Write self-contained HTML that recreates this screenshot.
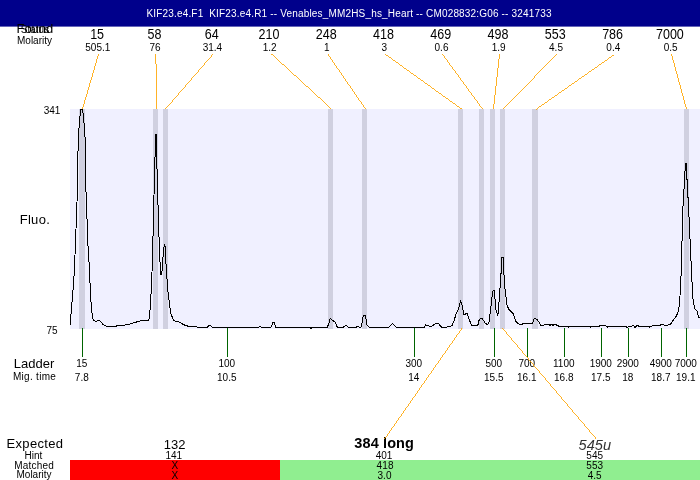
<!DOCTYPE html><html><head><meta charset="utf-8"><title>Electropherogram</title>
<style>html,body{margin:0;padding:0;background:#fff}svg{display:block}text{font-family:"Liberation Sans",sans-serif;fill:#000}.m{text-anchor:middle}.s{font-size:10px}.b{font-size:13px}.l{font-size:13px}</style></head><body>
<svg width="700" height="480" viewBox="0 0 700 480">
<rect x="0" y="0" width="700" height="480" fill="#fff"/>
<rect x="0" y="0" width="700" height="26.6" fill="#00008b"/>
<text x="349" y="16.6" class="m" style="font-size:10px;fill:#fff;white-space:pre" textLength="405" lengthAdjust="spacing">KIF23.e4.F1  KIF23.e4.R1 -- Venables_MM2HS_hs_Heart -- CM028832:G06 -- 3241733</text>
<text x="34.9" y="32.6" class="m l">Found</text>
<text x="35" y="32.6" class="m s">Status</text>
<text x="34.5" y="43.6" class="m s">Molarity</text>
<rect x="70" y="109" width="630" height="220" fill="#f0f0ff" shape-rendering="crispEdges"/>
<rect x="79" y="109" width="6" height="220" fill="#d0d0e0" shape-rendering="crispEdges"/>
<rect x="153" y="109" width="5" height="220" fill="#d0d0e0" shape-rendering="crispEdges"/>
<rect x="163" y="109" width="5" height="220" fill="#d0d0e0" shape-rendering="crispEdges"/>
<rect x="328" y="109" width="5" height="220" fill="#d0d0e0" shape-rendering="crispEdges"/>
<rect x="362" y="109" width="5" height="220" fill="#d0d0e0" shape-rendering="crispEdges"/>
<rect x="458" y="109" width="5" height="220" fill="#d0d0e0" shape-rendering="crispEdges"/>
<rect x="479" y="109" width="5" height="220" fill="#d0d0e0" shape-rendering="crispEdges"/>
<rect x="490" y="109" width="5" height="220" fill="#d0d0e0" shape-rendering="crispEdges"/>
<rect x="500" y="109" width="5" height="220" fill="#d0d0e0" shape-rendering="crispEdges"/>
<rect x="532" y="109" width="6" height="220" fill="#d0d0e0" shape-rendering="crispEdges"/>
<rect x="684" y="109" width="5" height="220" fill="#d0d0e0" shape-rendering="crispEdges"/>
<text transform="translate(97.1 39) scale(.895 1)" class="m" style="font-size:14px">15</text>
<text x="97.8" y="50.8" class="m s">505.1</text>
<line x1="98.6" y1="54" x2="82.5" y2="109" stroke="#ffa500" stroke-width="0.85" shape-rendering="crispEdges"/>
<text transform="translate(154.4 39) scale(.895 1)" class="m" style="font-size:14px">58</text>
<text x="155.1" y="50.8" class="m s">76</text>
<line x1="155.9" y1="54" x2="156.5" y2="109" stroke="#ffa500" stroke-width="0.85" shape-rendering="crispEdges"/>
<text transform="translate(211.7 39) scale(.895 1)" class="m" style="font-size:14px">64</text>
<text x="212.4" y="50.8" class="m s">31.4</text>
<line x1="213.2" y1="54" x2="165.5" y2="109" stroke="#ffa500" stroke-width="0.85" shape-rendering="crispEdges"/>
<text transform="translate(269.0 39) scale(.895 1)" class="m" style="font-size:14px">210</text>
<text x="269.7" y="50.8" class="m s">1.2</text>
<line x1="270.5" y1="54" x2="330.5" y2="109" stroke="#ffa500" stroke-width="0.85" shape-rendering="crispEdges"/>
<text transform="translate(326.2 39) scale(.895 1)" class="m" style="font-size:14px">248</text>
<text x="326.9" y="50.8" class="m s">1</text>
<line x1="327.7" y1="54" x2="365.5" y2="109" stroke="#ffa500" stroke-width="0.85" shape-rendering="crispEdges"/>
<text transform="translate(383.5 39) scale(.895 1)" class="m" style="font-size:14px">418</text>
<text x="384.2" y="50.8" class="m s">3</text>
<line x1="385.0" y1="54" x2="461.5" y2="109" stroke="#ffa500" stroke-width="0.85" shape-rendering="crispEdges"/>
<text transform="translate(440.8 39) scale(.895 1)" class="m" style="font-size:14px">469</text>
<text x="441.5" y="50.8" class="m s">0.6</text>
<line x1="442.3" y1="54" x2="482.5" y2="109" stroke="#ffa500" stroke-width="0.85" shape-rendering="crispEdges"/>
<text transform="translate(498.0 39) scale(.895 1)" class="m" style="font-size:14px">498</text>
<text x="498.7" y="50.8" class="m s">1.9</text>
<line x1="499.5" y1="54" x2="493.5" y2="109" stroke="#ffa500" stroke-width="0.85" shape-rendering="crispEdges"/>
<text transform="translate(555.3 39) scale(.895 1)" class="m" style="font-size:14px">553</text>
<text x="556.0" y="50.8" class="m s">4.5</text>
<line x1="556.8" y1="54" x2="503.5" y2="109" stroke="#ffa500" stroke-width="0.85" shape-rendering="crispEdges"/>
<text transform="translate(612.6 39) scale(.895 1)" class="m" style="font-size:14px">786</text>
<text x="613.3" y="50.8" class="m s">0.4</text>
<line x1="614.1" y1="54" x2="535.5" y2="109" stroke="#ffa500" stroke-width="0.85" shape-rendering="crispEdges"/>
<text transform="translate(669.9 39) scale(.895 1)" class="m" style="font-size:14px">7000</text>
<text x="670.6" y="50.8" class="m s">0.5</text>
<line x1="671.4" y1="54" x2="686.5" y2="109" stroke="#ffa500" stroke-width="0.85" shape-rendering="crispEdges"/>
<text x="52" y="113.6" class="m s">341</text>
<text x="52" y="333.6" class="m s">75</text>
<text x="34.9" y="224.4" class="m l" style="letter-spacing:.3px">Fluo.</text>
<line x1="82.5" y1="328" x2="82.5" y2="357" stroke="#006400" stroke-width="1" shape-rendering="crispEdges"/>
<text x="81.8" y="366.7" class="m s">15</text>
<text x="81.8" y="380.7" class="m s">7.8</text>
<line x1="227.5" y1="328" x2="227.5" y2="357" stroke="#006400" stroke-width="1" shape-rendering="crispEdges"/>
<text x="226.8" y="366.7" class="m s">100</text>
<text x="226.8" y="380.7" class="m s">10.5</text>
<line x1="414.5" y1="328" x2="414.5" y2="357" stroke="#006400" stroke-width="1" shape-rendering="crispEdges"/>
<text x="413.8" y="366.7" class="m s">300</text>
<text x="413.8" y="380.7" class="m s">14</text>
<line x1="494.5" y1="328" x2="494.5" y2="357" stroke="#006400" stroke-width="1" shape-rendering="crispEdges"/>
<text x="493.8" y="366.7" class="m s">500</text>
<text x="493.8" y="380.7" class="m s">15.5</text>
<line x1="527.5" y1="328" x2="527.5" y2="357" stroke="#006400" stroke-width="1" shape-rendering="crispEdges"/>
<text x="526.8" y="366.7" class="m s">700</text>
<text x="526.8" y="380.7" class="m s">16.1</text>
<line x1="564.5" y1="328" x2="564.5" y2="357" stroke="#006400" stroke-width="1" shape-rendering="crispEdges"/>
<text x="563.8" y="366.7" class="m s">1100</text>
<text x="563.8" y="380.7" class="m s">16.8</text>
<line x1="601.5" y1="328" x2="601.5" y2="357" stroke="#006400" stroke-width="1" shape-rendering="crispEdges"/>
<text x="600.8" y="366.7" class="m s">1900</text>
<text x="600.8" y="380.7" class="m s">17.5</text>
<line x1="628.5" y1="328" x2="628.5" y2="357" stroke="#006400" stroke-width="1" shape-rendering="crispEdges"/>
<text x="627.8" y="366.7" class="m s">2900</text>
<text x="627.8" y="380.7" class="m s">18</text>
<line x1="661.5" y1="328" x2="661.5" y2="357" stroke="#006400" stroke-width="1" shape-rendering="crispEdges"/>
<text x="660.8" y="366.7" class="m s">4900</text>
<text x="660.8" y="380.7" class="m s">18.7</text>
<line x1="686.5" y1="328" x2="686.5" y2="357" stroke="#006400" stroke-width="1" shape-rendering="crispEdges"/>
<text x="685.8" y="366.7" class="m s">7000</text>
<text x="685.8" y="380.7" class="m s">19.1</text>
<text x="34" y="367.9" class="m l">Ladder</text>
<text x="34.6" y="379.8" class="m s" style="letter-spacing:.3px">Mig. time</text>
<polyline fill="none" stroke="#000" stroke-width="1" stroke-linejoin="miter" shape-rendering="crispEdges" points="70,325.7 72.3,298.6 73.2,288 74,276 75,255 76,229 77,202 77.9,155 78.7,132 79.8,117 80.9,109.5 82.7,109.5 83.4,118 84.5,127 85.3,143 86,192 87,219 88,246 89,262 89.8,278 90.7,298.6 92.4,317 93.6,320.7 96.5,321.5 98.6,320.3 100.7,321.7 102.9,324.3 106.4,326.1 115.7,326.1 127.9,324.7 140.7,320.7 148.6,320.7 149.6,317 150.7,298.6 151.5,287 152.5,257 153.5,216 154.5,174 155.4,144 155.6,134 156.3,134 156.5,150 157.5,186 158.5,222 159.5,252 160.4,270 160.8,274.7 161.8,274.7 162.6,262 163.5,252 164.4,244 164.9,244 165.7,258.6 166.4,270 167.9,291.4 170.7,312.9 173.6,320.7 179.3,322.1 183.6,324.7 187.9,326.1 195.7,326.4 197.1,327.2 207.1,327.2 210,325 212.1,327.4 258.6,327.4 260,326.3 262,327.4 271,327.4 272.9,322.6 274.3,322.6 276,327.4 309.3,327.4 311,328.3 312.4,327.4 327.1,327.4 328.6,324.3 330.3,318.3 332.9,320.7 335,321.7 337.4,327.4 342.9,327.4 346,325.2 348.6,327.4 355.7,327.4 357.9,326.3 360,327.4 361.4,327 362.9,317.1 364,315.4 365.4,316 367.1,325 369.3,327.4 388.6,327.4 392.4,323.6 396.4,327.4 424.3,327.4 425.7,325 429.3,326.1 432.1,326.1 435,324 438.6,323.6 441.4,327.1 447.1,327.1 452.1,325.7 454.3,320 456.4,312.9 458.6,308.6 460.7,300.7 462.1,305.7 464,315 466.9,312.9 468.6,317.9 471.4,325 477.9,325 479.3,319.3 482.1,318.3 485,322.9 487.1,324.6 488.9,322.9 490.7,308.6 492.6,291.4 494.3,290.4 496,310 497.9,315.7 499.3,298.6 500.7,278.6 502.0,257.5 503.3,257.5 503.8,272 505,288.6 507.1,305.7 509.3,310 511.7,312.1 513.6,314.3 515.7,321.4 518.6,324 521.4,324.6 523.6,323.4 532.6,323.3 534.3,318.6 537.1,319.3 540.7,325 544.3,325 545.7,324 548.6,324.3 550,325.4 551.4,324.3 552.9,325.4 554.3,324.3 555.7,324.5 558.6,326.1 567.1,326.1 568.9,327.3 570.7,326.1 589.3,326.1 590.7,327.3 592.9,326.1 599.3,326.1 601.1,325 605,325 607.6,327.2 609.3,326.1 625,326.1 627.1,327.3 629.3,326.1 632.1,326.1 633.1,325 635,327.4 637.4,325.4 638.6,326.1 647.9,326.1 649.3,327.1 653.6,325.4 656.4,325 658.6,325.6 662.9,324.3 665,326 670,324.3 671.4,323.3 673.6,319.3 675.7,317.1 677.9,312.9 678.9,308.6 680,295.7 681.1,274.3 682.9,208 685.5,163 686.1,163 688.6,208 691.4,270 692.9,298.6 694.6,308.6 697.1,311.4 698.6,317.1 700,317.1"/>
<rect x="70" y="460" width="210" height="20" fill="#ff0000" shape-rendering="crispEdges"/>
<rect x="280" y="460" width="420" height="20" fill="#90ee90" shape-rendering="crispEdges"/>
<text x="34.9" y="448" class="m l" style="letter-spacing:.3px">Expected</text>
<text x="33.5" y="458.6" class="m s">Hint</text>
<text x="34.2" y="468.6" class="m s" style="letter-spacing:.2px">Matched</text>
<text x="34" y="477.8" class="m s">Molarity</text>
<text x="174.7" y="448.6" class="m b">132</text>
<text x="173.8" y="458.8" class="m s">141</text>
<text x="174.9" y="468.7" class="m s">X</text>
<text x="174.9" y="478.7" class="m s">X</text>
<text x="384.2" y="448" class="m" style="font-size:14.5px;font-weight:bold;letter-spacing:.12px">384 long</text>
<text x="384" y="458.8" class="m s">401</text>
<text x="385.2" y="468.7" class="m s" style="letter-spacing:.2px">418</text>
<text x="384.5" y="478.7" class="m s">3.0</text>
<text transform="translate(594.8 449.8) scale(.975 1)" class="m" style="font-size:15px;font-style:italic;fill:#333">545u</text>
<text x="594.7" y="458.8" class="m s">545</text>
<text x="594.7" y="468.7" class="m s">553</text>
<text x="594.7" y="478.7" class="m s">4.5</text>
<line x1="462.2" y1="328" x2="384.6" y2="439" stroke="#ffa500" stroke-width="0.85" shape-rendering="crispEdges"/>
<line x1="502.2" y1="328" x2="596.3" y2="439" stroke="#ffa500" stroke-width="0.85" shape-rendering="crispEdges"/>
</svg></body></html>
